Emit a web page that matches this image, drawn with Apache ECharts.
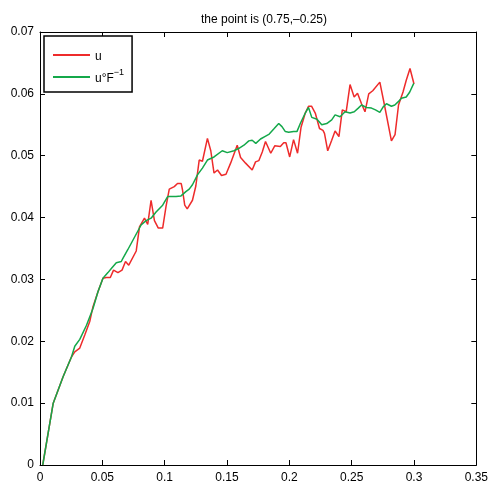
<!DOCTYPE html>
<html>
<head>
<meta charset="utf-8">
<script src="https://cdn.jsdelivr.net/npm/echarts@6/dist/echarts.min.js"></script>
<style>
  html, body { margin: 0; padding: 0; background: #fff; }
  #chart { width: 491px; height: 489px; }
</style>
</head>
<body>
<div id="chart"></div>
<script>
const TITLE = 'the point is (0.75,\u20130.25)'

// u (red)
const U_X = [0.0022, 0.0106, 0.0186, 0.0253, 0.0279, 0.0319, 0.0359, 0.0399, 0.0425, 0.0465,
  0.0505, 0.0532, 0.0564, 0.0590, 0.0625, 0.0658, 0.0686, 0.0712, 0.0772, 0.0798,
  0.0811, 0.0838, 0.0864, 0.0891, 0.0918, 0.0949, 0.0984, 0.1011, 0.1037, 0.1077,
  0.1103, 0.1133, 0.1143, 0.1161, 0.1181, 0.1197, 0.1223, 0.1250, 0.1277, 0.1303,
  0.1343, 0.1370, 0.1396, 0.1424, 0.1456, 0.1492, 0.1529, 0.1582, 0.1609, 0.1649,
  0.1702, 0.1729, 0.1755, 0.1783, 0.1809, 0.1821, 0.1851, 0.1883, 0.1928, 0.1955,
  0.1973, 0.2003, 0.2034, 0.2066, 0.2094, 0.2128, 0.2154, 0.2178, 0.2208, 0.2242,
  0.2270, 0.2282, 0.2308, 0.2340, 0.2367, 0.2398, 0.2425, 0.2456, 0.2487, 0.2520,
  0.2547, 0.2579, 0.2607, 0.2637, 0.2669, 0.2726, 0.2763, 0.2819, 0.2848, 0.2876,
  0.2912, 0.2938, 0.2968, 0.3000]
const U_Y = [0, 0.0100, 0.0143, 0.0175, 0.0183, 0.0189, 0.0210, 0.0232, 0.0256, 0.0280,
  0.0302, 0.0303, 0.0303, 0.0315, 0.0311, 0.0315, 0.0329, 0.0323, 0.0346, 0.0385,
  0.0388, 0.0399, 0.0389, 0.0428, 0.0395, 0.0383, 0.0383, 0.0418, 0.0446, 0.0450,
  0.0455, 0.0455, 0.0445, 0.0420, 0.0414, 0.0413, 0.0428, 0.0451, 0.0493, 0.0491,
  0.0528, 0.0508, 0.0472, 0.0477, 0.0468, 0.0470, 0.0488, 0.0517, 0.0497, 0.0488,
  0.0477, 0.0490, 0.0492, 0.0506, 0.0523, 0.0525, 0.0504, 0.0516, 0.0515, 0.0521,
  0.0521, 0.0498, 0.0526, 0.0504, 0.0546, 0.0569, 0.0580, 0.0580, 0.0569, 0.0544,
  0.0541, 0.0536, 0.0508, 0.0525, 0.0540, 0.0531, 0.0574, 0.0571, 0.0615, 0.0595,
  0.0601, 0.0584, 0.0571, 0.0600, 0.0605, 0.0619, 0.0582, 0.0524, 0.0534, 0.0582,
  0.0603, 0.0622, 0.0641, 0.0616]

// u o F^-1 (green)
const UF_X = [0.0022, 0.0106, 0.0186, 0.0253, 0.0279, 0.0319, 0.0373, 0.0425, 0.0465, 0.0505,
  0.0545, 0.0574, 0.0612, 0.0652, 0.0665, 0.0704, 0.0718, 0.0811, 0.0851, 0.0891,
  0.0931, 0.0984, 0.1024, 0.1091, 0.1131, 0.1170, 0.1197, 0.1223, 0.1263, 0.1303,
  0.1343, 0.1396, 0.1462, 0.1502, 0.1556, 0.1596, 0.1636, 0.1675, 0.1702, 0.1731,
  0.1769, 0.1803, 0.1839, 0.1875, 0.1915, 0.1941, 0.1968, 0.1995, 0.2034, 0.2061,
  0.2088, 0.2128, 0.2154, 0.2180, 0.2222, 0.2260, 0.2300, 0.2340, 0.2367, 0.2407,
  0.2447, 0.2487, 0.2521, 0.2553, 0.2579, 0.2619, 0.2659, 0.2691, 0.2726, 0.2753,
  0.2779, 0.2819, 0.2846, 0.2872, 0.2899, 0.2938, 0.2966, 0.2998]
const UF_Y = [0, 0.0100, 0.0143, 0.0175, 0.0192, 0.0203, 0.0226, 0.0253, 0.0280, 0.0302,
  0.0311, 0.0318, 0.0327, 0.0329, 0.0334, 0.0348, 0.0350, 0.0388, 0.0395, 0.0399,
  0.0409, 0.0420, 0.0434, 0.0434, 0.0435, 0.0442, 0.0446, 0.0453, 0.0469, 0.0480,
  0.0493, 0.0498, 0.0508, 0.0505, 0.0508, 0.0512, 0.0517, 0.0524, 0.0525, 0.0520,
  0.0527, 0.0531, 0.0535, 0.0543, 0.0552, 0.0547, 0.0539, 0.0538, 0.0539, 0.0539,
  0.0552, 0.0569, 0.0578, 0.0562, 0.0559, 0.0550, 0.0552, 0.0558, 0.0566, 0.0563,
  0.0571, 0.0569, 0.0571, 0.0577, 0.0582, 0.0578, 0.0577, 0.0574, 0.0570, 0.0579,
  0.0584, 0.0580, 0.0582, 0.0587, 0.0593, 0.0595, 0.0603, 0.0617]

const RED = '#ee2b2b'
const GREEN = '#14a84a'
const FONT = '"Liberation Sans", Arial, sans-serif'

const zip = (xs, ys) => xs.map((x, i) => [x, ys[i]])

const axisCommon = {
  type: 'value',
  axisLine: { show: true, onZero: false, lineStyle: { color: '#000', width: 1 } },
  axisTick: { show: true, inside: true, length: 5, lineStyle: { color: '#000' } },
  splitLine: { show: false },
}

const chart = echarts.init(document.getElementById('chart'))
chart.setOption({
  animation: false,
  backgroundColor: '#fff',
  title: {
    text: TITLE,
    left: 259,
    top: 9,
    textAlign: 'center',
    textStyle: { fontFamily: FONT, fontSize: 12, fontWeight: 'normal', color: '#000' },
  },
  legend: {
    orient: 'vertical',
    left: 44,
    top: 36,
    padding: [15, 8, 5, 9],
    itemGap: 2,
    itemWidth: 37,
    itemHeight: 2,
    icon: 'rect',
    borderColor: '#000',
    borderWidth: 1.5,
    backgroundColor: '#fff',
    data: ['u', 'uF'],
    formatter: (name) => (name === 'u' ? '{base|u}' : '{base|u\u00b0F}{sup|\u22121}'),
    textStyle: {
      fontFamily: FONT,
      fontSize: 12,
      color: '#000',
      rich: {
        base: { fontFamily: FONT, fontSize: 12, color: '#000', lineHeight: 20, verticalAlign: 'bottom', padding: [0, 0, 2, 0] },
        sup: { fontFamily: FONT, fontSize: 9, color: '#000', lineHeight: 20, verticalAlign: 'top', padding: [1, 0, 0, 0] },
      },
    },
  },
  grid: { left: 40, right: 12, top: 32, bottom: 24 },
  xAxis: [
    {
      ...axisCommon,
      position: 'bottom',
      min: 0,
      max: 0.35,
      interval: 0.05,
      axisLabel: { color: '#000', fontFamily: FONT, fontSize: 12, margin: 7 },
    },
    {
      ...axisCommon,
      position: 'top',
      min: 0,
      max: 0.35,
      interval: 0.05,
      axisLabel: { show: false },
    },
  ],
  yAxis: [
    {
      ...axisCommon,
      position: 'left',
      min: 0,
      max: 0.07,
      interval: 0.01,
      axisLabel: { color: '#000', fontFamily: FONT, fontSize: 12, margin: 6 },
    },
    {
      ...axisCommon,
      position: 'right',
      min: 0,
      max: 0.07,
      interval: 0.01,
      axisLabel: { show: false },
    },
  ],
  series: [
    {
      name: 'u',
      type: 'line',
      xAxisIndex: 0,
      yAxisIndex: 0,
      data: zip(U_X, U_Y),
      showSymbol: false,
      symbol: 'none',
      lineStyle: { color: RED, width: 1.5 },
      itemStyle: { color: RED },
      z: 2,
    },
    {
      name: 'uF',
      type: 'line',
      xAxisIndex: 0,
      yAxisIndex: 0,
      data: zip(UF_X, UF_Y),
      showSymbol: false,
      symbol: 'none',
      lineStyle: { color: GREEN, width: 1.5 },
      itemStyle: { color: GREEN },
      z: 3,
    },
  ],
})
</script>
</body>
</html>
